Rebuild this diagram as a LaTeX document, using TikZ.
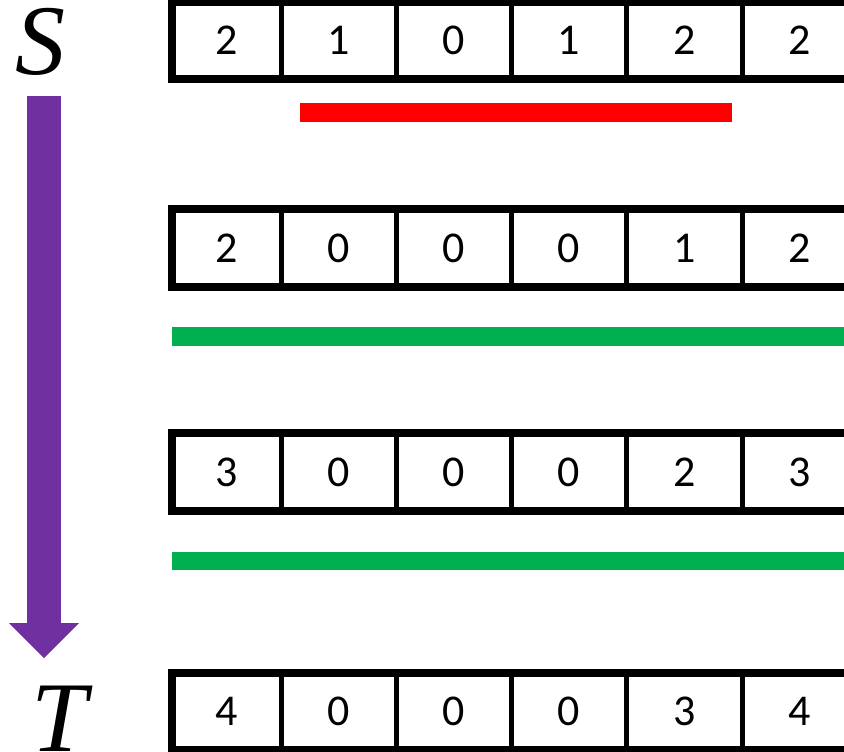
\documentclass[tikz,border=0pt]{standalone}
\usepackage{fontspec}
\setmainfont{Carlito}
\newfontfamily\letterfont{Liberation Serif}
\usetikzlibrary{arrows.meta}
\definecolor{opurple}{HTML}{7030A0}
\definecolor{ogreen}{HTML}{00B050}
\definecolor{ored}{HTML}{FF0000}
\newcommand\drawcellrow[4]{%
  \foreach \k in {0,...,4}
    \draw[innerline] ({281+\k*115.25},#2) -- ({281+\k*115.25},#3);
  \draw[outerline] (172,#2) rectangle (857,#3);
  \foreach \v [count=\ci] in {#4} {
    \pgfmathsetmacro\cx{\ci==1 ? 226.5 : 281+(\ci-1.5)*115.25}
    \node[digit] (#1\ci) at (\cx,{(#2+#3)/2}) {\v};
  }
}
\begin{document}
\begin{tikzpicture}[x=1pt,y=-1pt,
  digit/.style={font=\fontsize{44}{44}\selectfont, inner sep=0pt, anchor=center},
  bigletter/.style={font=\letterfont\itshape\fontsize{100}{100}\selectfont, inner sep=0pt, anchor=center},
  outerline/.style={line width=7.5pt, black},
  innerline/.style={line width=5pt, black},
  bar/.style={line width=18.5pt}]
\useasboundingbox (0,0) rectangle (844,752);
\clip (0,0) rectangle (844,752);
\drawcellrow{a}{2}{79}{2,1,0,1,2,2}
\drawcellrow{b}{209}{287}{2,0,0,0,1,2}
\drawcellrow{c}{433}{511}{3,0,0,0,2,3}
\drawcellrow{d}{673}{750}{4,0,0,0,3,4}
\draw[bar, ored] (300,112.5) -- (732,112.5);
\draw[bar, ogreen] (172,336.5) -- (857,336.5);
\draw[bar, ogreen] (172,561) -- (857,561);
\node[bigletter] (S) at (41,42) {S};
\node[bigletter] (T) at (59,719) {T};
\coordinate (ashaft) at (44,96);
\coordinate (atip) at (44,658);
\draw[opurple, line width=34pt, -{Triangle[width=70pt,length=35pt,line width=0pt]}] (ashaft) -- (atip);
\end{tikzpicture}
\end{document}
